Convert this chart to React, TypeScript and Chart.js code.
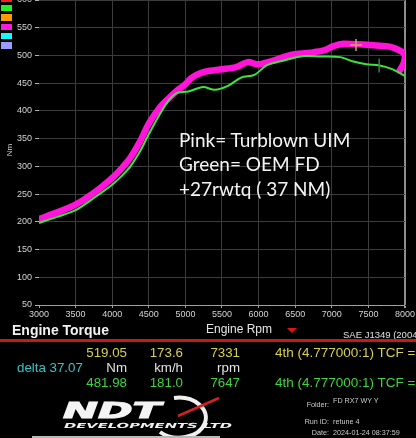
import React, { useEffect, useRef } from "react";
import { Chart, registerables } from "chart.js";

Chart.register(...registerables);

// ---- data ----
const pinkRpm = [3000,3250,3500,3750,4000,4125,4250,4385,4500,4655,4790,4880,5000,5070,5150,5280,5500,5690,5850,5985,6075,6255,6440,6710,6890,7025,7160,7365,7610,7790,7925,8000,7982,7928];
const pinkNm = [205,217,231,252,279,296,316,346,377,407,425,436,448,458,465,471,475,479,488,484,486,493,501,505,509,517,521,520,518,516,509,501,486,473];

const greenRpm = [3000,3250,3500,3750,4000,4125,4250,4385,4500,4655,4790,4880,5040,5243,5401,5581,5761,5942,6122,6347,6617,6842,7113,7293,7473,7653,7833,8000];
const greenNm = [198,209,221,243,267,282,300,328,358,395,422,432,435,443,438,445,460,465,483,491,499,498,497,489,484,482,475,463];

const cursorRpm = [7331, 7647];
const cursorNm = [519.05, 481.98];

const rpmMin = 3000;
const rpmMax = 8000;
const rpmStep = 500;
const nmMin = 50;
const nmMax = 600;
const nmStep = 50;

const annotationLines = ["Pink= Turblown UIM", "Green= OEM FD", "+27rwtq ( 37 NM)"];
const legendColors = ["#ff1c1c", "#22f022", "#ff9a00", "#ff18d8", "#18f8f8", "#9c9cff"];

const pts = (xs: number[], ys: number[]) => xs.map((x, i) => ({ x, y: ys[i] }));

const FONT = "'Liberation Sans', Arial, sans-serif";

function DynoChart() {
  const ref = useRef<HTMLCanvasElement | null>(null);
  useEffect(() => {
    if (!ref.current) return;
    const chart = new Chart(ref.current, {
      type: "scatter",
      data: {
        datasets: [
          {
            data: [{ x: cursorRpm[0], y: cursorNm[0] }],
            pointStyle: "cross",
            pointRadius: 6,
            borderColor: "#d9a070",
            backgroundColor: "#d9a070",
            borderWidth: 1.5,
            showLine: false,
          },
          {
            data: [{ x: cursorRpm[1], y: cursorNm[1] }],
            pointStyle: "line",
            rotation: 90,
            pointRadius: 7,
            borderColor: "#2f8a2f",
            borderWidth: 1.5,
            showLine: false,
          },
          {
            data: pts(greenRpm, greenNm),
            showLine: true,
            borderColor: "#3ee43e",
            borderWidth: 2,
            pointRadius: 0,
            tension: 0.3,
          },
          {
            data: pts(pinkRpm, pinkNm),
            showLine: true,
            borderColor: "#ff14d8",
            borderWidth: 6.5,
            pointRadius: 0,
            tension: 0.3,
            borderCapStyle: "round",
            borderJoinStyle: "round",
          },
        ],
      },
      options: {
        responsive: false,
        animation: false,
        events: [],
        layout: { padding: { top: 20, left: 0, right: 7, bottom: 0 } },
        plugins: { legend: { display: false }, tooltip: { enabled: false } },
        scales: {
          x: {
            type: "linear",
            min: rpmMin,
            max: rpmMax,
            afterFit: (s: any) => { s.height = 20; },
            ticks: {
              stepSize: rpmStep,
              color: "#d4d4d4",
              font: { family: FONT, size: 9 },
              padding: 1,
              maxRotation: 0,
              autoSkip: false,
              callback: (v: any) => String(v),
            },
            grid: {
              color: (c: any) =>
                c.tick && c.tick.value === rpmMin ? "rgba(0,0,0,0)" : c.tick && c.tick.value === rpmMax ? "#8c8c8c" : "#3c3c3c",
              lineWidth: (c: any) => (c.tick && c.tick.value === rpmMax ? 2 : 1),
              tickLength: 3,
              tickColor: "#a0a0a0",
            },
            border: { display: true, color: "#a0a0a0", width: 1 },
          },
          y: {
            type: "linear",
            min: nmMin,
            max: nmMax,
            afterFit: (s: any) => { s.width = 39; },
            ticks: {
              stepSize: nmStep,
              color: "#d4d4d4",
              font: { family: FONT, size: 9 },
              padding: 3,
              callback: (v: any) => String(v),
            },
            grid: {
              color: "#3c3c3c",
              tickLength: 4,
              tickColor: "#b0b0b0",
            },
            border: { display: false },
          },
        },
      },
    });
    return () => chart.destroy();
  }, []);
  return (
    <canvas
      ref={ref}
      width={416}
      height={345}
      style={{ position: "absolute", left: 0, top: -20, width: 416, height: 345 }}
    />
  );
}

const abs = (s: React.CSSProperties): React.CSSProperties => ({
  position: "absolute",
  whiteSpace: "nowrap",
  lineHeight: 1,
  fontFamily: FONT,
  ...s,
});

export default function App() {
  const yellow = "#d8d24a";
  const green = "#3ed63e";
  const white = "#e2e2e2";
  return (
    <div
      style={{
        position: "fixed",
        left: 0,
        top: 0,
        width: 416,
        height: 438,
        background: "#000",
        overflow: "hidden",
        fontFamily: FONT,
      }}
    >
      <DynoChart />

      {legendColors.map((c, i) => (
        <div
          key={c}
          style={{ position: "absolute", left: 1, top: -4.7 + i * 9.4, width: 11, height: 6.5, background: c }}
        />
      ))}

      <div style={abs({ left: 4, top: 146, fontSize: 8, color: "#cfcfcf", transform: "rotate(-90deg)", transformOrigin: "center" })}>Nm</div>

      {annotationLines.map((t, i) => (
        <div
          key={t}
          style={abs({ left: 179, top: 127.5 + i * 24.5, fontFamily: "Lato, 'Open Sans', sans-serif", fontSize: 19, lineHeight: "24.5px", color: "#f4f4f4" })}
        >
          {t}
        </div>
      ))}

      {/* bottom header */}
      <div style={abs({ left: 12, top: 323, fontSize: 14, fontWeight: "bold", color: "#f2f2f2" })}>Engine Torque</div>
      <div style={abs({ left: 206, top: 323, fontSize: 12, color: "#e6e6e6" })}>Engine Rpm</div>
      <div
        style={{
          position: "absolute",
          left: 287,
          top: 328,
          width: 0,
          height: 0,
          borderLeft: "5px solid transparent",
          borderRight: "5px solid transparent",
          borderTop: "5px solid #e01414",
        }}
      />
      <div style={abs({ left: 343, top: 330, fontSize: 9.5, color: "#e0e0e0" })}>SAE J1349 (2004)</div>
      <div style={{ position: "absolute", left: 0, top: 339, width: 416, height: 3, background: "#c81818" }} />

      {/* row 1 */}
      <div style={abs({ right: 289, top: 346, fontSize: 13.3, color: yellow })}>519.05</div>
      <div style={abs({ right: 233, top: 346, fontSize: 13.3, color: yellow })}>173.6</div>
      <div style={abs({ right: 176, top: 346, fontSize: 13.3, color: yellow })}>7331</div>
      <div style={abs({ left: 275, top: 346, fontSize: 13.5, color: yellow })}>4th (4.777000:1) TCF =</div>

      {/* row 2 */}
      <div style={abs({ left: 17, top: 361, fontSize: 13.3, color: "#3cc4c4" })}>delta 37.07</div>
      <div style={abs({ right: 289, top: 361, fontSize: 13.3, color: white })}>Nm</div>
      <div style={abs({ right: 233, top: 361, fontSize: 13.3, color: white })}>km/h</div>
      <div style={abs({ right: 176, top: 361, fontSize: 13.3, color: white })}>rpm</div>

      {/* row 3 */}
      <div style={abs({ right: 289, top: 376, fontSize: 13.3, color: green })}>481.98</div>
      <div style={abs({ right: 233, top: 376, fontSize: 13.3, color: green })}>181.0</div>
      <div style={abs({ right: 176, top: 376, fontSize: 13.3, color: green })}>7647</div>
      <div style={abs({ left: 275, top: 376, fontSize: 13.5, color: green })}>4th (4.777000:1) TCF =</div>

      {/* logo */}
      <svg width={416} height={438} style={{ position: "absolute", left: 0, top: 0 }}>
        <path d="M 174 398 A 27 20 0 1 1 160 432" fill="none" stroke="#f0f0f0" strokeWidth={4} />
        <line x1={178} y1={416} x2={219} y2={398} stroke="#d42020" strokeWidth={2.5} />
        <text
          x={63}
          y={418}
          fontFamily="'DejaVu Sans', sans-serif"
          fontWeight="bold"
          fontStyle="italic"
          fontSize={21}
          textLength={98}
          lengthAdjust="spacingAndGlyphs"
          fill="#f4f4f4"
          stroke="#f4f4f4"
          strokeWidth={1}
        >
          NDT
        </text>
        <text
          x={64}
          y={427.5}
          fontFamily="'DejaVu Sans', sans-serif"
          fontWeight="bold"
          fontStyle="italic"
          fontSize={7}
          textLength={168}
          lengthAdjust="spacingAndGlyphs"
          fill="#f0f0f0"
        >
          DEVELOPMENTS LTD
        </text>
      </svg>
      <div style={{ position: "absolute", left: 32, top: 436, width: 188, height: 2, background: "#b8b8b8" }} />

      {/* run info */}
      <div style={abs({ right: 87, top: 401, fontSize: 7.2, color: "#cccccc" })}>Folder:</div>
      <div style={abs({ left: 333, top: 397, fontSize: 7.2, color: "#cccccc" })}>FD RX7 WY Y</div>
      <div style={abs({ right: 87, top: 418, fontSize: 7.2, color: "#cccccc" })}>Run ID:</div>
      <div style={abs({ left: 333, top: 418, fontSize: 7.2, color: "#cccccc" })}>retune 4</div>
      <div style={abs({ right: 87, top: 429, fontSize: 7.2, color: "#cccccc" })}>Date:</div>
      <div style={abs({ left: 333, top: 429, fontSize: 7.2, color: "#cccccc" })}>2024-01-24 08:37:59</div>
    </div>
  );
}
